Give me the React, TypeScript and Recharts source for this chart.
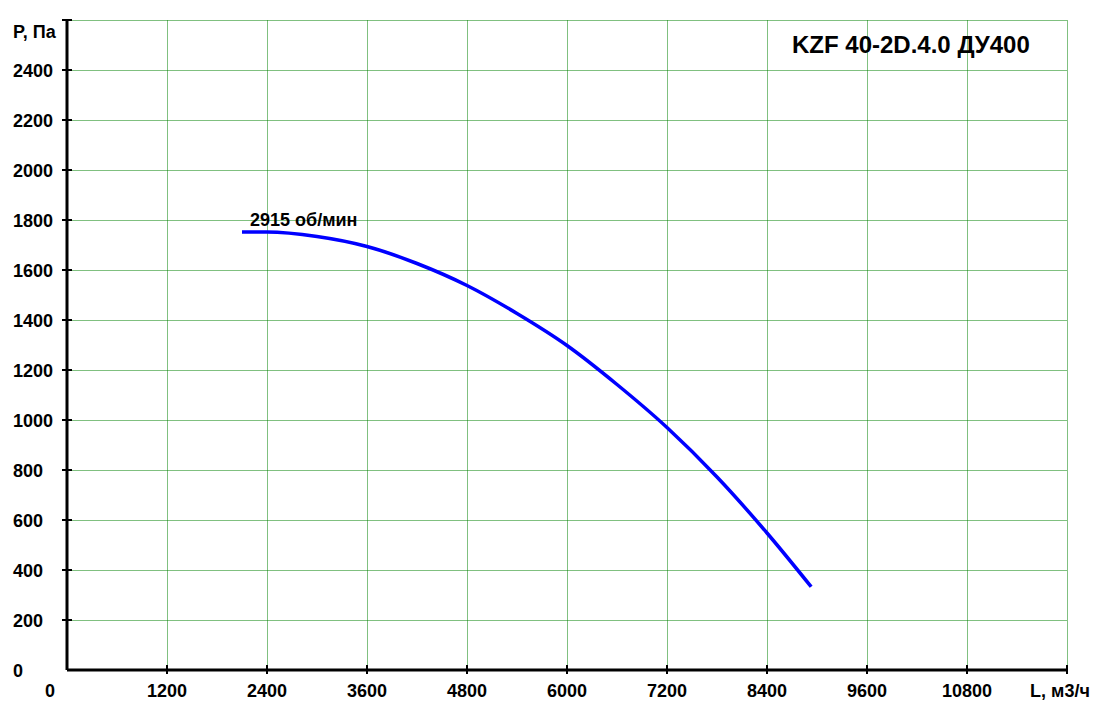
import React from 'react';
import {
  LineChart, Line, XAxis, YAxis, CartesianGrid, ReferenceDot, Customized,
} from 'recharts';

// fan curve
const flow = [2100, 2400, 3000, 3600, 4200, 4800, 5400, 6000, 6600, 7200, 7800, 8400, 8930];
const pressure = [1752, 1752, 1734, 1694, 1626, 1538, 1426, 1298, 1142, 970, 772, 548, 333];

const xTicks = [0, 1200, 2400, 3600, 4800, 6000, 7200, 8400, 9600, 10800, 12000];
const yTicks = [0, 200, 400, 600, 800, 1000, 1200, 1400, 1600, 1800, 2000, 2200, 2400, 2600];

const TITLE = 'KZF 40-2D.4.0 ДУ400';
const SPEED = '2915 об/мин';
const X_NAME = 'L, м3/ч';
const Y_NAME = 'P, Па';

const FONT = '"Liberation Sans", Arial, sans-serif';

const data = flow.map((L, i) => ({ L, P: pressure[i] }));

const XTick = ({ x, y, payload }: any) => {
  const v = payload.value;
  const label = v === 12000 ? X_NAME : String(v);
  const tx = v === 0 ? x - 17 : v === 12000 ? x - 7 : x;
  return (
    <g>
      {v !== 0 && <line x1={x} x2={x} y1={y - 5} y2={y + 4} stroke="#000" strokeWidth={2} />}
      <text x={tx} y={y + 27} textAnchor="middle" fontFamily={FONT} fontWeight="bold" fontSize={18} fill="#000">
        {label}
      </text>
    </g>
  );
};

const YTick = ({ x, y, payload }: any) => {
  const v = payload.value;
  const top = v === 2600;
  return (
    <g>
      {v !== 0 && <line x1={x - 5} x2={x + 5} y1={y} y2={y} stroke="#000" strokeWidth={2} />}
      <text x={x - 54} y={top ? y + 18 : y + 7} textAnchor="start" fontFamily={FONT} fontWeight="bold" fontSize={18} fill="#000">
        {top ? Y_NAME : String(v)}
      </text>
    </g>
  );
};

const SpeedLabel = ({ cx, cy }: any) => (
  <text x={cx + 8} y={cy - 6} fontFamily={FONT} fontWeight="bold" fontSize={18} fill="#000">
    {SPEED}
  </text>
);

const Title = () => (
  <text x={792} y={53} fontFamily={FONT} fontWeight="bold" fontSize={24} fill="#000">
    {TITLE}
  </text>
);

export default function App() {
  return (
    <div style={{ width: 1100, height: 717, background: '#fff' }}>
      <style>{'body{margin:0} .recharts-cartesian-grid{transform:translate(0.5px,0.5px)}'}</style>
      <LineChart width={1100} height={717} data={data} margin={{ top: 20, right: 33, left: 0, bottom: 0 }}>
        <CartesianGrid stroke="#008000" strokeDasharray="1 1" />
        <XAxis
          type="number"
          dataKey="L"
          domain={[0, 12000]}
          ticks={xTicks}
          interval={0}
          height={47}
          tickSize={0}
          tickMargin={0}
          tickLine={false}
          axisLine={{ stroke: '#000', strokeWidth: 3 }}
          tick={<XTick />}
        />
        <YAxis
          type="number"
          domain={[0, 2600]}
          ticks={yTicks}
          interval={0}
          width={67}
          tickSize={0}
          tickMargin={0}
          tickLine={false}
          axisLine={{ stroke: '#000', strokeWidth: 3 }}
          tick={<YTick />}
        />
        <Line
          type="monotone"
          dataKey="P"
          stroke="#0000ff"
          strokeWidth={3.5}
          dot={false}
          isAnimationActive={false}
        />
        <ReferenceDot x={flow[0]} y={pressure[0]} r={0} shape={<SpeedLabel />} />
        <Customized component={<Title />} />
      </LineChart>
    </div>
  );
}
